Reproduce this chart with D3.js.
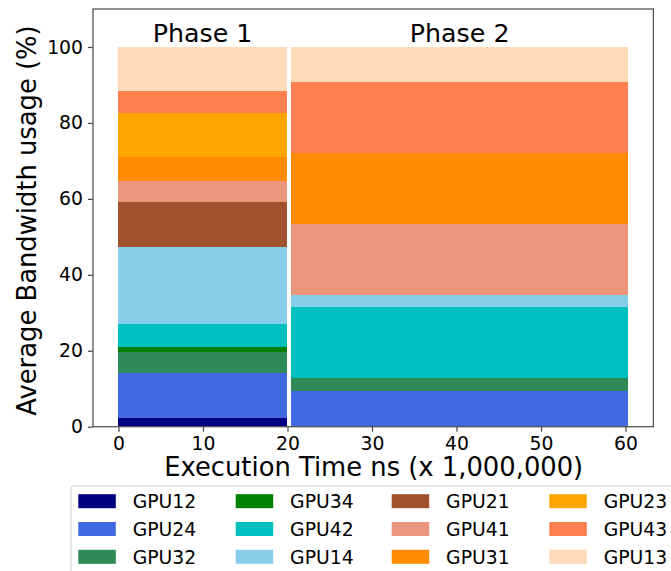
<!DOCTYPE html>
<html>
<head>
<meta charset="utf-8">
<script src="https://cdn.jsdelivr.net/npm/d3@7"></script>
<style>
  html, body { margin: 0; padding: 0; background: #fff; }
  svg { display: block; font-family: "DejaVu Sans", sans-serif; }
</style>
</head>
<body>
<svg id="chart" width="671" height="571"></svg>
<script>
// Links, in stacking order (bottom to top)
const gpus = ["GPU12", "GPU24", "GPU32", "GPU34", "GPU42", "GPU14",
              "GPU21", "GPU41", "GPU31", "GPU23", "GPU43", "GPU13"];
const gpuColors = ["#000080", "#4169E1", "#2E8B57", "#008000", "#00BFBF", "#87CEEB",
                   "#A0522D", "#E9967A", "#FF8C00", "#FFA500", "#FF7F50", "#FFDAB9"];

// Phases and their time spans (ns x 1,000,000)
const phases = ["Phase 1", "Phase 2"];
const phaseStart = [0, 20.45];
const phaseEnd = [19.9, 60.3];

// Average bandwidth share (%) of each link per phase
const phase1Usage = [2.2, 11.9, 5.7, 1.3, 6.0, 20.3, 11.7, 5.7, 6.2, 11.5, 5.9, 11.6];
const phase2Usage = [0, 9.4, 3.35, 0, 18.75, 3.2, 0, 18.8, 18.7, 0, 18.6, 9.2];

const xTicks = [0, 10, 20, 30, 40, 50, 60];
const yTicks = [0, 20, 40, 60, 80, 100];

// Rows for d3.stack
const usageByPhase = [phase1Usage, phase2Usage];
const rows = phases.map((p, i) => {
  const r = { phase: p, x0: phaseStart[i], x1: phaseEnd[i] };
  gpus.forEach((g, j) => { r[g] = usageByPhase[i][j]; });
  return r;
});

const svg = d3.select("#chart");
const plot = { left: 93, right: 653.4, top: 9, bottom: 426.7 };

const x = d3.scaleLinear().domain([-3.015, 63.3]).range([plot.left, plot.right]);
const y = d3.scaleLinear().domain([0, 110]).range([plot.bottom, plot.top]);
const color = d3.scaleOrdinal().domain(gpus).range(gpuColors);

const series = d3.stack().keys(gpus)(rows);

// Stacked areas
svg.append("g")
  .selectAll("g")
  .data(series)
  .join("g")
    .attr("fill", d => color(d.key))
  .selectAll("rect")
  .data(d => d)
  .join("rect")
    .attr("x", d => x(d.data.x0))
    .attr("width", d => x(d.data.x1) - x(d.data.x0))
    .attr("y", d => y(d[1]))
    .attr("height", d => Math.max(0, y(d[0]) - y(d[1])))
    .attr("shape-rendering", "crispEdges");

// Phase titles
svg.append("g")
  .selectAll("text")
  .data(rows)
  .join("text")
    .attr("x", d => x((d.x0 + d.x1) / 2))
    .attr("y", 41.7)
    .attr("text-anchor", "middle")
    .attr("font-size", 25.3)
    .attr("fill", "#000")
    .text(d => d.phase);

// Axes
const xAxis = d3.axisBottom(x).tickValues(xTicks).tickSize(5).tickPadding(5).tickFormat(d3.format("d"));
const yAxis = d3.axisLeft(y).tickValues(yTicks).tickSize(5).tickPadding(5).tickFormat(d3.format("d"));

const gx = svg.append("g").attr("transform", `translate(0,${plot.bottom})`).call(xAxis);
const gy = svg.append("g").attr("transform", `translate(${plot.left},0)`).call(yAxis);
[gx, gy].forEach(g => {
  g.select(".domain").remove();
  g.selectAll(".tick line").attr("stroke", "#444").attr("stroke-width", 1.2);
  g.selectAll(".tick text").attr("font-size", 18.8).attr("fill", "#000")
    .attr("font-family", "DejaVu Sans, sans-serif");
});

// Frame
svg.append("rect")
  .attr("x", plot.left).attr("y", plot.top)
  .attr("width", plot.right - plot.left).attr("height", plot.bottom - plot.top)
  .attr("fill", "none").attr("stroke", "#555").attr("stroke-width", 1.3);

// Axis titles
svg.append("text")
  .attr("x", (plot.left + plot.right) / 2 + 0.5)
  .attr("y", 475.5)
  .attr("text-anchor", "middle")
  .attr("font-size", 25.8)
  .attr("fill", "#000")
  .text("Execution Time ns (x 1,000,000)");

svg.append("text")
  .attr("transform", "translate(35.5,220.5) rotate(-90)")
  .attr("text-anchor", "middle")
  .attr("font-size", 25.8)
  .attr("fill", "#000")
  .text("Average Bandwidth usage (%)");

// Legend (column-major, 4 columns x 3 rows)
const legend = svg.append("g");
legend.append("rect")
  .attr("x", 71).attr("y", 486)
  .attr("width", 640).attr("height", 120)
  .attr("rx", 3)
  .attr("fill", "#fff").attr("stroke", "#d6d6d6").attr("stroke-width", 1.2);

const colX = [78.3, 235.7, 391.7, 549.3];
const rowY = [501.2, 529, 556.8];
const item = legend.selectAll("g.item")
  .data(gpus)
  .join("g")
    .attr("class", "item")
    .attr("transform", (d, i) => `translate(${colX[Math.floor(i / 3)]},${rowY[i % 3]})`);
item.append("rect")
  .attr("x", 0).attr("y", -7)
  .attr("width", 37.5).attr("height", 14)
  .attr("fill", d => color(d));
item.append("text")
  .attr("x", 54.4).attr("y", 6.7)
  .attr("font-size", 18.8)
  .attr("fill", "#000")
  .text(d => d);
</script>
</body>
</html>
